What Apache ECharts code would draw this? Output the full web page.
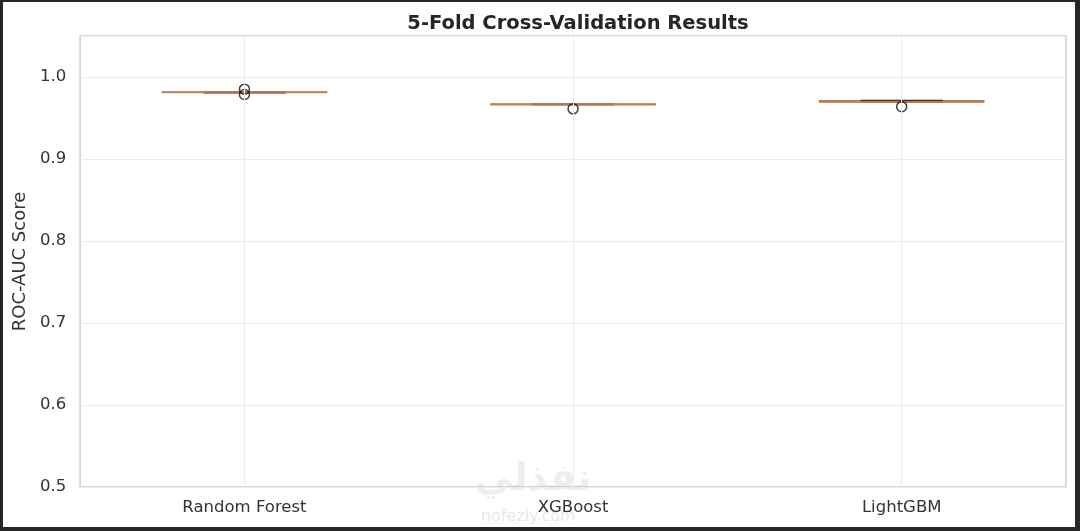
<!DOCTYPE html>
<html>
<head>
<meta charset="utf-8">
<script src="https://cdn.jsdelivr.net/npm/echarts@6/dist/echarts.min.js"></script>
<style>
html,body{margin:0;padding:0;background:#262626;width:1080px;height:531px;overflow:hidden;}
#chart{position:absolute;left:3px;top:2px;width:1072px;height:525px;background:#ffffff;}
</style>
</head>
<body>
<div id="chart"></div>
<script>
const categories = ['Random Forest', 'XGBoost', 'LightGBM'];
const whiskerLow = [0.9811, 0.9665, 0.9694];
const q1 = [0.9812, 0.9666, 0.9695];
const medians = [0.9815, 0.9668, 0.9697];
const q3 = [0.9817, 0.9670, 0.9709];
const whiskerHigh = [0.9818, 0.9671, 0.9713];
const outliers = [[0, 0.9852], [0, 0.9786], [1, 0.9612], [2, 0.9638]];
const yTicks = [0.5, 0.6, 0.7, 0.8, 0.9, 1.0];

const boxData = categories.map((c, i) => [i, whiskerLow[i], q1[i], medians[i], q3[i], whiskerHigh[i]]);
const font = 'DejaVu Sans';

const chart = echarts.init(document.getElementById('chart'));
chart.setOption({
  animation: false,
  title: {
    text: '5-Fold Cross-Validation Results',
    left: 570, top: 7, textAlign: 'center',
    textStyle: {fontFamily: font, fontWeight: 'bold', fontSize: 19.5, color: '#262626'}
  },
  grid: {left: 77, top: 34, right: 9, bottom: 40, show: true, borderColor: '#cfcfcf', borderWidth: 1.5, backgroundColor: 'transparent'},
  xAxis: {
    type: 'category', data: categories, boundaryGap: true,
    axisLine: {show: false}, axisTick: {show: false},
    axisLabel: {fontFamily: font, fontSize: 16.5, color: '#333333', margin: 12},
    splitLine: {show: false}
  },
  yAxis: {
    type: 'value', min: 0.5, max: 1.05, interval: 0.1,
    name: 'ROC-AUC Score', nameLocation: 'middle', nameGap: 49, nameRotate: 90,
    nameTextStyle: {fontFamily: font, fontSize: 18, color: '#333333'},
    axisLine: {show: false}, axisTick: {show: false},
    axisLabel: {fontFamily: font, fontSize: 16.5, color: '#333333', margin: 14,
      formatter: v => (yTicks.some(t => Math.abs(t - v) < 1e-9) ? v.toFixed(1) : '')},
    splitLine: {show: true, lineStyle: {color: '#ebebeb', width: 1}}
  },
  graphic: [
    {type: 'text', left: 472, top: 458, z: 0, style: {text: 'نفذلي', font: 'bold 38px "Noto Sans", "DejaVu Sans"', fill: 'rgba(150,150,150,0.16)'}},
    {type: 'text', left: 478, top: 507, z: 0, style: {text: 'nofezly.com', font: '16px "DejaVu Sans"', fill: 'rgba(150,150,150,0.22)'}}
  ],
  series: [
    {
      type: 'line', data: [], z: 1,
      markLine: {
        silent: true, symbol: 'none', label: {show: false},
        lineStyle: {color: '#ebebeb', width: 1, type: 'solid'},
        data: categories.map(c => ({xAxis: c}))
      }
    },
    {
      type: 'custom', z: 3,
      data: boxData,
      encode: {x: 0, y: [1, 2, 3, 4, 5]},
      renderItem: function (params, api) {
        const x = api.value(0);
        const band = api.size([1, 0])[0];
        const bw = band * 0.5, cw = band * 0.25;
        const pLow = api.coord([x, api.value(1)]);
        const pQ1 = api.coord([x, api.value(2)]);
        const pMed = api.coord([x, api.value(3)]);
        const pQ3 = api.coord([x, api.value(4)]);
        const pHigh = api.coord([x, api.value(5)]);
        const cx = pMed[0];
        const dark = {stroke: '#1a1a1a', lineWidth: 1.8, fill: null};
        return {
          type: 'group',
          children: [
            {type: 'rect', shape: {x: cx - bw / 2, y: pQ3[1], width: bw, height: Math.max(pQ1[1] - pQ3[1], 0.5)}, style: {stroke: '#6b4a35', lineWidth: 1.2, fill: null}},
            {type: 'line', shape: {x1: cx, y1: pLow[1], x2: cx, y2: pQ1[1]}, style: dark},
            {type: 'line', shape: {x1: cx, y1: pQ3[1], x2: cx, y2: pHigh[1]}, style: dark},
            {type: 'line', shape: {x1: cx - cw / 2, y1: pLow[1], x2: cx + cw / 2, y2: pLow[1]}, style: dark},
            {type: 'line', shape: {x1: cx - cw / 2, y1: pHigh[1], x2: cx + cw / 2, y2: pHigh[1]}, style: dark},
            {type: 'line', shape: {x1: cx - bw / 2, y1: pMed[1], x2: cx + bw / 2, y2: pMed[1]}, style: {stroke: '#d08b5c', lineWidth: 2.2, opacity: 0.85}}
          ]
        };
      }
    },
    {
      type: 'scatter', z: 4,
      data: outliers,
      symbol: 'circle', symbolSize: 10,
      itemStyle: {color: 'rgba(0,0,0,0)', borderColor: '#111111', borderWidth: 1.5}
    }
  ]
});
</script>
</body>
</html>
